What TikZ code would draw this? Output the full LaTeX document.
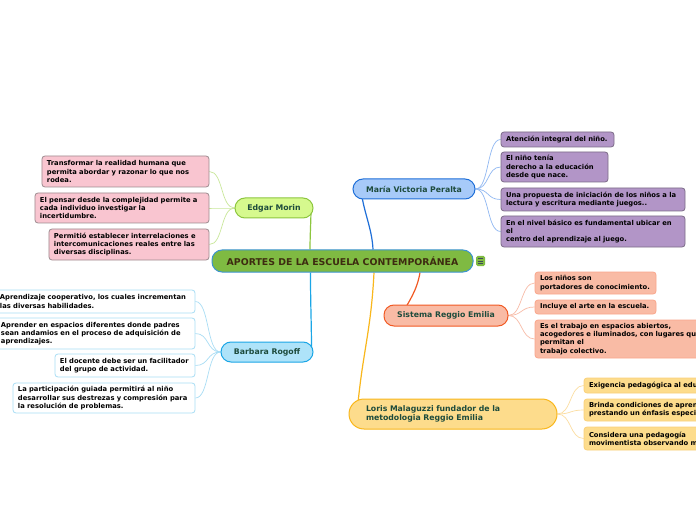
\documentclass[tikz,border=0pt]{standalone}
\usepackage{fontspec}
\setmainfont{DejaVu Sans}
\usetikzlibrary{backgrounds}
\definecolor{centralfill}{HTML}{7FBA42}
\definecolor{centralborder}{HTML}{3D94D0}
\definecolor{titletext}{HTML}{3D2B10}
\definecolor{headtext}{HTML}{1D4B3C}
\definecolor{edgarfill}{HTML}{D6F98E}
\definecolor{edgarborder}{HTML}{8DC63F}
\definecolor{edgarconn}{HTML}{C9E79A}
\definecolor{pinkfill}{HTML}{F9C5D0}
\definecolor{pinkborder}{HTML}{9E8C90}
\definecolor{mariafill}{HTML}{A7CAF9}
\definecolor{mariaborder}{HTML}{1F6FD8}
\definecolor{mariaconn}{HTML}{90B8F2}
\definecolor{purplefill}{HTML}{B295C7}
\definecolor{purpleborder}{HTML}{7C6C88}
\definecolor{sisfill}{HTML}{F9BBA5}
\definecolor{sisborder}{HTML}{F15A24}
\definecolor{salborder}{HTML}{F9A78C}
\definecolor{sisconn}{HTML}{F8BCA8}
\definecolor{barfill}{HTML}{AEE3F9}
\definecolor{barborder}{HTML}{1BA6E6}
\definecolor{barconn}{HTML}{A9DDF5}
\definecolor{lorisfill}{HTML}{FDDC8C}
\definecolor{lorisborder}{HTML}{F9B71C}
\definecolor{lorchildborder}{HTML}{FAD07A}
\definecolor{lorconn}{HTML}{FCDDA0}
\definecolor{icondark}{HTML}{3E4A5A}
\begin{document}
\begin{tikzpicture}[x=1bp,y=-1bp,
  childbox/.style={draw, line width=0.8bp, rounded corners=3bp,
    font=\fontsize{6.8}{8.2}\selectfont\bfseries, text=black,
    align=left, inner xsep=5bp, inner ysep=0bp, anchor=center},
  pinkbox/.style={childbox, fill=pinkfill, draw=pinkborder},
  purplebox/.style={childbox, fill=purplefill, draw=purpleborder},
  salbox/.style={childbox, fill=sisfill, draw=salborder},
  bluebox/.style={childbox, fill=white, draw=barconn},
  orangebox/.style={childbox, fill=lorisfill, draw=lorchildborder},
  headbox/.style={draw, line width=1bp, rounded corners=10bp,
    font=\fontsize{7.8}{9.4}\selectfont\bfseries, text=headtext,
    inner sep=0bp, anchor=center},
  conn/.style={line width=0.7bp},
  mainconn/.style={line width=1.2bp}
]
\useasboundingbox (0,0) rectangle (696,520);

% central
\node[draw=centralborder, fill=centralfill, line width=1bp, rounded corners=10bp,
  minimum width=261bp, minimum height=22bp, inner sep=0bp,
  font=\fontsize{9.4}{11}\selectfont\bfseries, text=titletext]
  (central) at (342.5,261) {APORTES DE LA ESCUELA CONTEMPORÁNEA};
\node[fill=centralfill, rounded corners=1.5bp, minimum width=9bp, minimum height=10bp,
  inner sep=0bp] (icon) at (480.5,261) {};
\draw[icondark, line width=0.9bp] ([xshift=-2.5bp,yshift=-2.2bp]icon.center) -- ([xshift=2.5bp,yshift=-2.2bp]icon.center)
  ([xshift=-2.5bp]icon.center) -- ([xshift=2.5bp]icon.center)
  ([xshift=-2.5bp,yshift=2.2bp]icon.center) -- ([xshift=2.5bp,yshift=2.2bp]icon.center);

% Edgar Morin
\node[headbox, fill=edgarfill, draw=edgarborder, minimum width=78bp, minimum height=20bp]
  (edgar) at (274,208) {Edgar Morin};
\node[pinkbox, text width=157bp, minimum height=31bp] (p1) at (125.5,171.5)
  {Transformar la realidad humana que\\permita abordar y razonar lo que nos\\rodea.};
\node[pinkbox, text width=164bp, minimum height=30bp] (p2) at (122,208)
  {El pensar desde la complejidad permite a\\cada individuo investigar la\\incertidumbre.};
\node[pinkbox, text width=150bp, minimum height=31bp] (p3) at (129,244.5)
  {Permitió establecer interrelaciones e\\intercomunicaciones reales entre las\\diversas disciplinas.};

% Maria Victoria Peralta
\node[headbox, fill=mariafill, draw=mariaborder, minimum width=122bp, minimum height=20bp]
  (maria) at (414,189) {María Victoria Peralta};
\node[purplebox, text width=103bp, minimum height=15bp] (m1) at (557.5,139.5)
  {Atención integral del niño.};
\node[purplebox, text width=97bp, minimum height=30bp] (m2) at (554.5,167)
  {El niño tenía\\derecho a la educación\\desde que nace.};
\node[purplebox, text width=174bp, minimum height=23bp] (m3) at (593,199.5)
  {Una propuesta de iniciación de los niños a la\\lectura y escritura mediante juegos..};
\node[purplebox, text width=174bp, minimum height=31bp] (m4) at (593,231.5)
  {En el nivel básico es fundamental ubicar en\\el\\centro del aprendizaje al juego.};

% Sistema Reggio Emilia
\node[headbox, fill=sisfill, draw=sisborder, minimum width=124bp, minimum height=21bp]
  (sistema) at (446,315.5) {Sistema Reggio Emilia};
\node[salbox, text width=111bp, minimum height=22bp] (s1) at (595.5,283)
  {Los niños son\\portadores de conocimiento.};
\node[salbox, text width=111bp, minimum height=14bp] (s2) at (595.5,307)
  {Incluye el arte en la escuela.};
\node[salbox, text width=174bp, minimum height=38bp] (s3) at (627,339)
  {Es el trabajo en espacios abiertos,\\acogedores e iluminados, con lugares que\\permitan el\\trabajo colectivo.};

% Barbara Rogoff
\node[headbox, fill=barfill, draw=barborder, minimum width=92bp, minimum height=20bp]
  (barbara) at (267,352) {Barbara Rogoff};
\node[bluebox, text width=190bp, minimum height=23bp] (b1) at (95,301.5)
  {Aprendizaje cooperativo, los cuales incrementan\\las diversas habilidades.};
\node[bluebox, text width=189bp, minimum height=31bp] (b2) at (95.5,333.5)
  {Aprender en espacios diferentes donde padres\\sean andamios en el proceso de adquisición de\\aprendizajes.};
\node[bluebox, text width=130bp, minimum height=23bp] (b3) at (125,365.5)
  {El docente debe ser un facilitador\\del grupo de actividad.};
\node[bluebox, text width=172bp, minimum height=30bp] (b4) at (104,398)
  {La participación guiada permitirá al niño\\desarrollar sus destrezas y compresión para\\la resolución de problemas.};

% Loris Malaguzzi
\node[headbox, fill=lorisfill, draw=lorisborder, rounded corners=15bp,
  text width=174bp, align=left, inner xsep=17bp, minimum height=30bp]
  (loris) at (453,414) {Loris Malaguzzi fundador de la\\metodologia Reggio Emilia};
\node[orangebox, text width=190bp, minimum height=15bp] (o1) at (684,385.5)
  {Exigencia pedagógica al educador.};
\node[orangebox, text width=190bp, minimum height=22bp] (o2) at (684,410)
  {Brinda condiciones de aprendizaje,\\prestando un énfasis especial};
\node[orangebox, text width=190bp, minimum height=23bp] (o3) at (684,438.5)
  {Considera una pedagogía\\movimentista observando más};

\begin{scope}[on background layer]
  \fill[white] (0,0) rectangle (696,520);
  % main branches
  \draw[mainconn, edgarborder] ([xshift=-32.5bp]central.north) .. controls +(0,-14) and +(0,12) .. ([xshift=37bp]edgar.center);
  \draw[mainconn, mariaborder] ([xshift=30.5bp]central.north) .. controls +(-1,-22) and +(2,22) .. ([xshift=-53bp]maria.center);
  \draw[mainconn, barborder] ([xshift=-32bp]central.south) .. controls +(0,35) and +(0,-30) .. ([xshift=-2bp]barbara.east);
  \draw[mainconn, sisborder] ([xshift=77.5bp]central.south) .. controls +(-3,18) and +(8,-14) .. ([xshift=-45bp]sistema.center);
  \draw[mainconn, lorisborder] ([xshift=31.5bp]central.south) .. controls +(-3,60) and +(5,-60) .. ([xshift=-96bp]loris.center);
  % children
  \foreach \c in {p1,p2,p3}
    \draw[conn, edgarconn] (edgar.west) .. controls +(-14,0) and +(14,0) .. (\c.east);
  \foreach \c in {m1,m2,m3,m4}
    \draw[conn, mariaconn] (maria.east) .. controls +(14,0) and +(-14,0) .. (\c.west);
  \foreach \c in {s1,s2,s3}
    \draw[conn, sisconn] (sistema.east) .. controls +(14,0) and +(-14,0) .. (\c.west);
  \foreach \c in {b1,b2,b3,b4}
    \draw[conn, barconn] (barbara.west) .. controls +(-14,0) and +(14,0) .. (\c.east);
  \foreach \c in {o1,o2,o3}
    \draw[conn, lorconn] (loris.east) .. controls +(14,0) and +(-14,0) .. (\c.west);
\end{scope}
\end{tikzpicture}
\end{document}
